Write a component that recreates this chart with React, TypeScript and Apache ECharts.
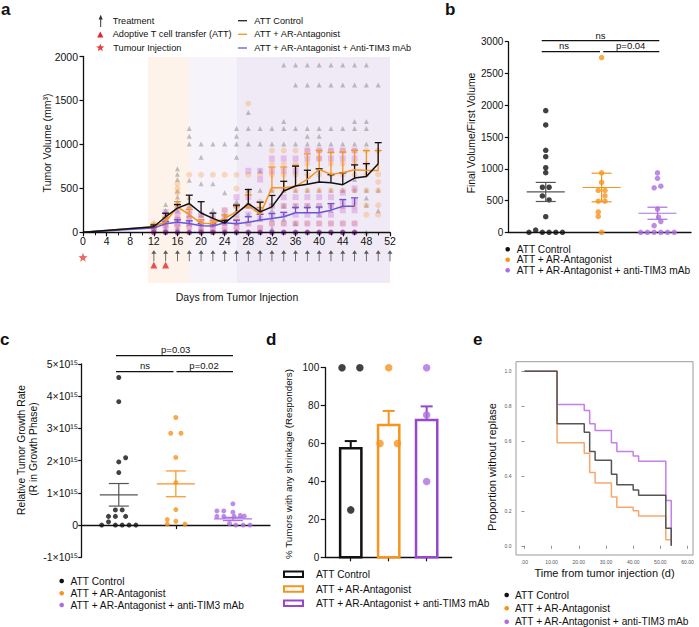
import React, { useEffect, useRef } from 'react';
import * as echarts from 'echarts';

const FONT = '"Liberation Sans", Arial, Helvetica, sans-serif';
const BLACK = '#111111';
const ORANGE = '#f7941d';
const PURPLE = '#ab6fe0';
const BLUE = '#6a55d8';

// ---------- Panel a : tumour volume over time ----------
const aDays = [0, 12, 14, 16, 18, 20, 22, 24, 26, 28, 30, 32, 34, 36, 38, 40, 42, 44, 46, 48, 50];
const aCtrlMean = [0, 63, 177, 275, 327, 220, 158, 105, 214, 327, 233, 289, 470, 527, 546, 572, 565, 542, 617, 636, 780];
const aCtrlSem = [0, 20, 40, 40, 95, 128, 60, 30, 95, 160, 110, 130, 110, 225, 160, 150, 90, 135, 150, 145, 240];
const aArMean = [0, 63, 120, 289, 200, 102, 100, 158, 233, 305, 203, 508, 508, 523, 602, 715, 659, 678, 712, 704, 704];
const aArSem = [0, 30, 50, 60, 60, 40, 30, 40, 60, 120, 80, 235, 235, 240, 290, 215, 250, 235, 220, 225, 225];
const aTimDays = [0, 12, 14, 16, 18, 20, 22, 24, 26, 28, 30, 32, 34, 36, 38, 40, 42, 44, 46];
const aTimMean = [0, 48, 98, 113, 101, 75, 72, 109, 98, 113, 139, 158, 177, 222, 222, 222, 252, 297, 297];
const aTimSem = [0, 15, 25, 30, 30, 25, 25, 30, 40, 65, 65, 55, 50, 60, 60, 65, 75, 75, 95];

const aCtrlPts: [number, number[]][] = [
  [12, [100, 70, 40, 20, 0]],
  [14, [316, 252, 195, 150, 100, 50, 0]],
  [16, [723, 659, 602, 470, 402, 350, 250, 150, 50, 0]],
  [18, [1182, 1092, 1005, 591, 400, 300, 200, 100, 0]],
  [20, [1005, 854, 553, 200, 100, 50, 0]],
  [22, [1005, 553, 250, 100, 0]],
  [24, [1005, 450, 200, 100, 0]],
  [26, [1182, 1092, 1005, 854, 350, 250, 100, 0]],
  [28, [1363, 1182, 1005, 478, 300, 200, 0]],
  [30, [1182, 1005, 700, 478, 250, 150, 0]],
  [32, [1182, 1005, 478, 250, 150, 50, 0]],
  [34, [1902, 1261, 1182, 1005, 478, 300, 150, 0]],
  [36, [1902, 1675, 1182, 1005, 478, 300, 100, 0]],
  [38, [1902, 1675, 1182, 1092, 1005, 478, 300, 0]],
  [40, [1902, 1675, 1182, 1092, 1005, 478, 200, 0]],
  [42, [1902, 1675, 1182, 1005, 478, 250, 0]],
  [44, [1902, 1675, 1182, 1005, 478, 300, 0]],
  [46, [1902, 1675, 1261, 1182, 1005, 600, 478, 0]],
  [48, [1902, 1675, 1261, 1182, 1005, 478, 391, 308, 0]],
  [50, [1675, 478, 244]],
];
const aArPts: [number, number[]][] = [
  [12, [100, 50, 20]],
  [14, [160, 90]],
  [16, [553, 497, 450, 289, 160, 80]],
  [18, [655, 300, 160, 60]],
  [20, [655, 200, 100, 30]],
  [22, [655, 160, 80, 20]],
  [24, [655, 250, 120, 30]],
  [26, [655, 497, 300, 160, 50]],
  [28, [1465, 655, 450, 300, 100]],
  [30, [655, 350, 200, 50]],
  [32, [930, 780, 655, 478, 300, 100]],
  [34, [930, 780, 655, 478, 300, 100]],
  [36, [930, 780, 655, 478, 300, 100]],
  [38, [930, 780, 655, 478, 300, 100]],
  [40, [930, 840, 655, 478, 300, 100]],
  [42, [930, 780, 655, 478, 300, 100]],
  [44, [930, 780, 655, 478, 300, 100]],
  [46, [930, 780, 655, 478, 300, 100]],
  [48, [930, 780, 655, 478, 308, 200]],
  [50, [930, 659, 572, 478, 308, 200]],
];
const aTimPts: [number, number[]][] = [
  [12, [60, 30]],
  [14, [230, 180, 130, 80, 40]],
  [16, [300, 240, 190, 140, 100, 60]],
  [18, [250, 200, 150, 100, 60]],
  [20, [200, 150, 100, 50]],
  [22, [180, 120, 80, 40]],
  [24, [250, 180, 120, 60]],
  [26, [400, 300, 200, 120, 60]],
  [28, [700, 400, 300, 200, 100]],
  [30, [700, 600, 250, 150, 50]],
  [32, [840, 700, 300, 200, 100]],
  [34, [840, 700, 400, 300, 200, 100]],
  [36, [840, 700, 400, 300, 200, 100]],
  [38, [930, 840, 400, 300, 200, 100]],
  [40, [930, 840, 400, 300, 200, 100]],
  [42, [930, 840, 400, 300, 200, 100]],
  [44, [930, 840, 450, 350, 250, 100]],
  [46, [930, 840, 500, 350, 250, 100]],
];
const aZeroDays = [12, 14, 16, 18, 20, 22, 24, 26, 28, 30, 32, 34, 36, 38, 40, 42, 44, 46];
const aTreatDays = [12, 14, 16, 18, 20, 22, 24, 26, 28, 30, 32, 34, 36, 38, 40, 42, 44, 46, 48, 50, 52];
const aAttDays = [12, 14];
const aInjectDays = [0];
const aPhases: [number, number, string][] = [
  [11, 18, '#fdf3ea'],
  [18, 26, '#f7f3fb'],
  [26, 52, '#f0eaf7'],
];

// ---------- Panel b : final / first volume ----------
const bCtrl: [number, number][] = [[1, 1915], [1, 1690], [1, 1290], [1, 1190], [1, 1017], [1, 939], [0.94, 709], [1.06, 709], [0.94, 572], [1.06, 509], [1, 246], [0.82, 36], [0.7, 0], [0.94, 0], [1.06, 0], [1.18, 0], [1.3, 0]];
const bAr: [number, number][] = [[2, 2750], [2, 935], [2, 785], [1.94, 660], [2.06, 660], [2.06, 575], [1.94, 490], [2.06, 490], [1.94, 320], [1.94, 250], [2, 0]];
const bTim: [number, number][] = [[3, 935], [3, 850], [2.94, 700], [3.06, 725], [3, 365], [3.02, 240], [3.06, 170], [2.94, 105], [2.7, 0], [2.82, 0], [2.94, 0], [3.06, 0], [3.18, 0], [3.3, 0]];
const bMeans: [number, number, number][] = [[1, 635, 150], [2, 705, 225], [3, 300, 95]];

// ---------- Panel c : growth rate (units of 1e15) ----------
const cCtrl: [number, number][] = [[1, 4.58], [1, 3.83], [1.12, 2.09], [1, 1.96], [1, 1.63], [0.94, 0.47], [1.06, 0.47], [0.82, 0.27], [0.94, 0.27], [1.12, 0.27], [0.82, 0.1], [0.7, 0], [0.94, 0], [1.06, 0], [1.18, 0], [1.3, 0]];
const cAr: [number, number][] = [[2, 3.34], [1.91, 2.85], [2.09, 2.85], [2, 2.1], [2, 1.32], [2, 0.48], [1.85, 0.17], [2, 0.12], [1.85, 0.03], [2.16, 0.03]];
const cTim: [number, number][] = [[3, 0.66], [2.72, 0.44], [2.84, 0.44], [3, 0.4], [2.72, 0.27], [2.84, 0.27], [3.02, 0.27], [3.13, 0.3], [3.2, 0.28], [2.94, 0.05], [3.05, 0], [3.18, 0], [3.3, 0]];
const cMeans: [number, number, number][] = [[1, 0.94, 0.35], [2, 1.28, 0.4], [3, 0.19, 0.05]];

// ---------- Panel d : responders ----------
const dBars: [number, number, number][] = [[1, 57.5, 3.8], [2, 69.8, 7.4], [3, 72.4, 7.2]];
const dCtrl: [number, number][] = [[0.77, 100], [1.24, 100], [1, 25]];
const dAr: [number, number][] = [[2, 100], [1.77, 60], [2.23, 60]];
const dTim: [number, number][] = [[3, 100], [3, 75], [3, 40]];

// ---------- Panel e : Kaplan-Meier ----------
const eCtrl: [number, number][] = [[0, 1], [12, 0.7], [22, 0.65], [24, 0.54], [26, 0.49], [32, 0.41], [34, 0.35], [40, 0.32], [42, 0.29], [52, 0.1], [54, 0]];
const eAr: [number, number][] = [[0, 1], [12, 0.59], [22, 0.53], [24, 0.42], [26, 0.36], [32, 0.28], [34, 0.22], [40, 0.2], [42, 0.17], [52, 0.035], [54, 0.035]];
const eTim: [number, number][] = [[0, 1], [12, 0.81], [22, 0.775], [24, 0.7], [26, 0.66], [32, 0.59], [34, 0.54], [40, 0.515], [42, 0.485], [52, 0.26], [54, 0]];
const eXTicks = [0, 10, 20, 30, 40, 50, 60];
const eYTicks = [0, 0.2, 0.4, 0.6, 0.8, 1.0];

const legendNames = ['ATT Control', 'ATT + AR-Antagonist', 'ATT + AR-Antagonist + anti-TIM3 mAb'];

// ---------- helpers ----------
const flat = (rows: [number, number[]][]) => rows.flatMap(([d, vs]) => vs.map((v) => [d, v]));
const zip3 = (xs: number[], ms: number[], es: number[]) => xs.map((x, i) => [x, ms[i], es[i]]);

function starPoints(cx: number, cy: number, R: number, r: number) {
  const pts: number[][] = [];
  for (let i = 0; i < 10; i++) {
    const ang = -Math.PI / 2 + (i * Math.PI) / 5;
    const rad = i % 2 === 0 ? R : r;
    pts.push([cx + rad * Math.cos(ang), cy + rad * Math.sin(ang)]);
  }
  return pts;
}
const starSymbol = 'path://' + starPoints(10, 10, 10, 4.2).map((p, i) => (i ? 'L' : 'M') + p[0].toFixed(2) + ',' + p[1].toFixed(2)).join('') + 'Z';
const arrowSymbol = 'path://M5,0L9,4.5L5.7,4.5L5.7,14L4.3,14L4.3,4.5L1,4.5Z';

const ln = (x1: number, y1: number, x2: number, y2: number, color: string, lw: number) => ({
  type: 'line', shape: { x1, y1, x2, y2 }, style: { stroke: color, lineWidth: lw },
});

const upperErr = (color: string, half: number, lw: number) => (_p: any, api: any) => {
  const x = api.value(0), m = api.value(1), e = api.value(2);
  if (!e) return { type: 'group', children: [] };
  const a = api.coord([x, m]);
  const b = api.coord([x, m + e]);
  return { type: 'group', children: [ln(a[0], a[1], b[0], b[1], color, lw), ln(b[0] - half, b[1], b[0] + half, b[1], color, lw)] };
};

const meanSem = (colors: string[], halfMean: number, halfCap: number, lw: number) => (p: any, api: any) => {
  const color = colors[p.dataIndex];
  const x = api.value(0), m = api.value(1), e = api.value(2);
  const c = api.coord([x, m]);
  const t = api.coord([x, m + e]);
  const b = api.coord([x, m - e]);
  return {
    type: 'group',
    children: [
      ln(c[0] - halfMean, c[1], c[0] + halfMean, c[1], color, lw),
      ln(t[0], t[1], b[0], b[1], color, lw),
      ln(t[0] - halfCap, t[1], t[0] + halfCap, t[1], color, lw),
      ln(b[0] - halfCap, b[1], b[0] + halfCap, b[1], color, lw),
    ],
  };
};

const barItem = (colors: string[]) => (p: any, api: any) => {
  const color = colors[p.dataIndex];
  const x = api.value(0), v = api.value(1);
  const tl = api.coord([x - 0.28, v]);
  const br = api.coord([x + 0.28, 0]);
  return { type: 'rect', shape: { x: tl[0], y: tl[1], width: br[0] - tl[0], height: br[1] - tl[1] }, style: { fill: '#fff', stroke: color, lineWidth: 2.5 } };
};

const txt = (x: number, y: number, text: string, size: number, extra: any = {}) => ({
  type: 'text', x, y, silent: true, rotation: extra.rotation || 0,
  style: { text, fontSize: size, fontFamily: FONT, fontWeight: extra.bold ? 'bold' : 'normal', fill: extra.fill || '#111', textAlign: extra.align || 'left', textVerticalAlign: 'middle' },
});

const axLine = { show: true, lineStyle: { color: BLACK, width: 1.3 } };
const tickOut = (len = 4) => ({ show: true, inside: false, length: len, lineStyle: { color: BLACK, width: 1.2 } });
const plain = (v: number) => String(v);
const lbl = (size: number, margin: number, extra: any = {}) => ({ fontSize: size, fontFamily: FONT, color: '#111', margin, formatter: plain, ...extra });

function buildOption() {
  const graphics: any[] = [];
  // panel letters
  graphics.push(txt(1, 9, 'a', 17, { bold: true }));
  graphics.push(txt(445, 9, 'b', 17, { bold: true }));
  graphics.push(txt(0, 339, 'c', 17, { bold: true }));
  graphics.push(txt(266, 339, 'd', 17, { bold: true }));
  graphics.push(txt(473, 339, 'e', 17, { bold: true }));

  // panel a legend
  graphics.push(ln(100.7, 27, 100.7, 18, '#333', 1));
  graphics.push({ type: 'polygon', shape: { points: [[98.6, 19.5], [100.7, 14.8], [102.8, 19.5]] }, style: { fill: '#333' } });
  graphics.push(txt(112.7, 20.7, 'Treatment', 9.2));
  graphics.push({ type: 'polygon', shape: { points: [[97.2, 37.6], [100.3, 31.4], [103.4, 37.6]] }, style: { fill: '#e3262a' } });
  graphics.push(txt(112.7, 34.3, 'Adoptive T cell transfer (ATT)', 9.2));
  graphics.push({ type: 'polygon', shape: { points: starPoints(100.3, 47.8, 4.3, 1.8) }, style: { fill: '#e8413c' } });
  graphics.push(txt(113.3, 48, 'Tumour Injection', 9.2));
  const aLeg: [string, string][] = [['ATT Control', '#222'], ['ATT + AR-Antagonist', ORANGE], ['ATT + AR-Antagonist + Anti-TIM3 mAb', BLUE]];
  aLeg.forEach(([t, c], i) => {
    const y = [20.7, 34.3, 48][i];
    graphics.push(ln(238, y, 247, y, c, 1.3));
    graphics.push(txt(254.3, y, t, 9.2));
  });
  graphics.push(txt(167.5, 274, 'Growth', 8, { align: 'center' }));
  graphics.push(txt(213.3, 275, 'Response', 8, { align: 'center' }));
  graphics.push(txt(311.7, 275, 'Relapse', 8, { align: 'center' }));
  graphics.push(txt(47, 143, 'Tumor Volume (mm\u00b3)', 10.5, { align: 'center', rotation: Math.PI / 2 }));
  graphics.push(txt(237, 297, 'Days from Tumor Injection', 10.5, { align: 'center' }));

  // panel b
  graphics.push(txt(471.7, 133, 'Final Volume/First Volume', 10.4, { align: 'center', rotation: Math.PI / 2 }));
  graphics.push(ln(541.7, 40.7, 659.3, 40.7, BLACK, 1.2));
  graphics.push(ln(541.7, 51.7, 600, 51.7, BLACK, 1.2));
  graphics.push(ln(603.3, 51.7, 659.3, 51.7, BLACK, 1.2));
  graphics.push(txt(600.5, 35, 'ns', 9.5, { align: 'center' }));
  graphics.push(txt(564, 45.5, 'ns', 9.5, { align: 'center' }));
  graphics.push(txt(630.7, 45.5, 'p=0.04', 9.5, { align: 'center' }));

  // panel c
  graphics.push(txt(21.7, 450, 'Relative Tumor Growth Rate', 10.3, { align: 'center', rotation: Math.PI / 2 }));
  graphics.push(txt(33.5, 449, '(R in Growth Phase)', 10.3, { align: 'center', rotation: Math.PI / 2 }));
  graphics.push(ln(116, 355.7, 233, 355.7, BLACK, 1.2));
  graphics.push(ln(116, 371.7, 173.5, 371.7, BLACK, 1.2));
  graphics.push(ln(176.5, 371.7, 233, 371.7, BLACK, 1.2));
  graphics.push(txt(175.7, 349, 'p=0.03', 9.5, { align: 'center' }));
  graphics.push(txt(145, 365, 'ns', 9.5, { align: 'center' }));
  graphics.push(txt(204, 365, 'p=0.02', 9.5, { align: 'center' }));

  // panel d
  graphics.push(txt(288.3, 464, '% Tumors with any shrinkage (Responders)', 9.8, { align: 'center', rotation: Math.PI / 2 }));

  // panel e
  graphics.push(txt(491.7, 467, 'Proportion without replase', 11, { align: 'center', rotation: Math.PI / 2 }));
  graphics.push(txt(604.5, 573, 'Time from tumor injection (d)', 11, { align: 'center' }));

  const dotColors = [BLACK, ORANGE, PURPLE];
  const dotLegend = (x: number, ys: number[], tx: number, size: number) => {
    legendNames.forEach((t, i) => {
      graphics.push({ type: 'circle', shape: { cx: x, cy: ys[i], r: 2.3 }, style: { fill: dotColors[i] } });
      graphics.push(txt(tx, ys[i], t, size));
    });
  };
  dotLegend(507.7, [249.3, 259.8, 270.3], 516.7, 10.2);
  dotLegend(61.7, [581, 593.3, 605], 70.5, 10.2);
  dotLegend(506.7, [595, 608.3, 621.7], 515, 10.2);
  const barColors = [BLACK, ORANGE, '#9646d2'];
  legendNames.forEach((t, i) => {
    const y = [574.3, 589, 603.3][i];
    graphics.push({ type: 'rect', shape: { x: 284, y: y - 2.8, width: 19, height: 5.6 }, style: { fill: '#fff', stroke: barColors[i], lineWidth: 2 } });
    graphics.push(txt(316, y, t, 10.2));
  });

  const series: any[] = [];
  // shading (grid 0)
  series.push({
    type: 'line', xAxisIndex: 0, yAxisIndex: 0, data: [[0, -1]], showSymbol: false, lineStyle: { opacity: 0 }, z: 0, silent: true,
    markArea: { silent: true, data: aPhases.map(([s, e, c]) => [{ xAxis: s, itemStyle: { color: c } }, { xAxis: e }]) },
  });
  // scatter individual tumours
  series.push({ type: 'scatter', xAxisIndex: 1, yAxisIndex: 1, data: flat(aCtrlPts), symbol: 'triangle', symbolSize: 5, itemStyle: { color: 'rgba(105,105,105,0.5)' }, z: 2, silent: true });
  series.push({ type: 'scatter', xAxisIndex: 1, yAxisIndex: 1, data: flat(aArPts), symbol: 'circle', symbolSize: 6, itemStyle: { color: 'rgba(247,150,60,0.38)' }, z: 2, silent: true });
  series.push({ type: 'scatter', xAxisIndex: 1, yAxisIndex: 1, data: flat(aTimPts), symbol: 'rect', symbolSize: 6, itemStyle: { color: 'rgba(200,90,215,0.38)' }, z: 2, silent: true });
  series.push({ type: 'scatter', xAxisIndex: 1, yAxisIndex: 1, data: aZeroDays.map((d) => [d, 0]), symbol: 'circle', symbolSize: 5.5, itemStyle: { color: '#9a2fb5' }, z: 3, silent: true });
  // mean lines
  const meanLine = (xs: number[], ms: number[], color: string) => ({
    type: 'line', xAxisIndex: 1, yAxisIndex: 1, data: xs.map((x, i) => [x, ms[i]]), showSymbol: false, lineStyle: { color, width: 1.5 }, z: 5, silent: true,
  });
  const errSeries = (xs: number[], ms: number[], es: number[], color: string) => ({
    type: 'custom', xAxisIndex: 1, yAxisIndex: 1, data: zip3(xs, ms, es), renderItem: upperErr(color, 3.5, 1.3), z: 5, silent: true,
  });
  series.push(errSeries(aDays, aArMean, aArSem, ORANGE));
  series.push(meanLine(aDays, aArMean, ORANGE));
  series.push(errSeries(aTimDays, aTimMean, aTimSem, BLUE));
  series.push(meanLine(aTimDays, aTimMean, BLUE));
  series.push(errSeries(aDays, aCtrlMean, aCtrlSem, BLACK));
  series.push(meanLine(aDays, aCtrlMean, BLACK));
  // annotation row
  series.push({ type: 'scatter', xAxisIndex: 2, yAxisIndex: 2, data: aTreatDays.map((d) => [d, 0.626]), symbol: arrowSymbol, symbolSize: [5, 11], itemStyle: { color: '#333' }, silent: true });
  series.push({ type: 'scatter', xAxisIndex: 2, yAxisIndex: 2, data: aAttDays.map((d) => [d, 0.405]), symbol: 'triangle', symbolSize: 7, itemStyle: { color: '#e3262a' }, silent: true });
  series.push({ type: 'scatter', xAxisIndex: 2, yAxisIndex: 2, data: aInjectDays.map((d) => [d, 0.588]), symbol: starSymbol, symbolSize: 9, itemStyle: { color: '#e8413c' }, silent: true });

  // panel b
  series.push({ type: 'scatter', xAxisIndex: 3, yAxisIndex: 3, data: bCtrl, symbolSize: 5.5, itemStyle: { color: BLACK }, silent: true });
  series.push({ type: 'scatter', xAxisIndex: 3, yAxisIndex: 3, data: bAr, symbolSize: 5.5, itemStyle: { color: ORANGE }, silent: true });
  series.push({ type: 'scatter', xAxisIndex: 3, yAxisIndex: 3, data: bTim, symbolSize: 5.5, itemStyle: { color: PURPLE }, silent: true });
  series.push({ type: 'custom', xAxisIndex: 3, yAxisIndex: 3, data: bMeans, renderItem: meanSem(['#555', ORANGE, PURPLE], 19, 10, 1.2), z: 5, silent: true });

  // panel c
  series.push({ type: 'scatter', xAxisIndex: 4, yAxisIndex: 4, data: cCtrl, symbolSize: 5, itemStyle: { color: BLACK }, silent: true });
  series.push({ type: 'scatter', xAxisIndex: 4, yAxisIndex: 4, data: cAr, symbolSize: 5, itemStyle: { color: ORANGE }, silent: true });
  series.push({ type: 'scatter', xAxisIndex: 4, yAxisIndex: 4, data: cTim, symbolSize: 5, itemStyle: { color: PURPLE }, silent: true });
  series.push({ type: 'custom', xAxisIndex: 4, yAxisIndex: 4, data: cMeans, renderItem: meanSem(['#555', ORANGE, PURPLE], 19, 10, 1.2), z: 5, silent: true });

  // panel d
  series.push({ type: 'custom', xAxisIndex: 5, yAxisIndex: 5, data: dBars, renderItem: barItem(barColors), z: 2, silent: true });
  series.push({
    type: 'custom', xAxisIndex: 5, yAxisIndex: 5, data: dBars, z: 3, silent: true,
    renderItem: (p: any, api: any) => upperErr(barColors[p.dataIndex], 6, 2)(p, api),
  });
  series.push({ type: 'scatter', xAxisIndex: 5, yAxisIndex: 5, data: dCtrl, symbolSize: 7.5, itemStyle: { color: BLACK }, z: 4, silent: true });
  series.push({ type: 'scatter', xAxisIndex: 5, yAxisIndex: 5, data: dAr, symbolSize: 7.5, itemStyle: { color: ORANGE }, z: 4, silent: true });
  series.push({ type: 'scatter', xAxisIndex: 5, yAxisIndex: 5, data: dTim, symbolSize: 7.5, itemStyle: { color: PURPLE }, z: 4, silent: true });

  // panel e
  const km = (data: [number, number][], color: string, z: number) => ({
    type: 'line', xAxisIndex: 6, yAxisIndex: 6, data, step: 'end', showSymbol: false, lineStyle: { color, width: 1.5 }, z, silent: true,
  });
  series.push(km(eTim, '#c67ee8', 2));
  series.push(km(eAr, '#f9a66c', 3));
  series.push(km(eCtrl, '#555555', 4));

  const hiddenX = (grid: number, min: number, max: number) => ({ type: 'value', gridIndex: grid, min, max, show: false });
  const hiddenY = (grid: number) => ({ type: 'value', gridIndex: grid, min: 0, max: 1, show: false });

  return {
    animation: false,
    backgroundColor: '#ffffff',
    textStyle: { fontFamily: FONT },
    grid: [
      { left: 83, top: 57, width: 307, height: 226 },
      { left: 83, top: 56.5, width: 307, height: 175.8 },
      { left: 83, top: 240, width: 307, height: 42 },
      { left: 508.3, top: 41.7, width: 182.7, height: 190.6 },
      { left: 81.7, top: 364, width: 188.3, height: 193.3 },
      { left: 325.7, top: 367.7, width: 126, height: 189.6 },
      { left: 516, top: 361.7, width: 177, height: 193.3, show: true, borderColor: '#9a9a9a', borderWidth: 1 },
    ],
    xAxis: [
      hiddenX(0, 0, 52),
      {
        type: 'value', gridIndex: 1, min: 0, max: 52, interval: 4, z: 10,
        axisLine: axLine, axisTick: tickOut(4), minorTick: { show: true, splitNumber: 2, length: 3, lineStyle: { color: BLACK, width: 1 } },
        axisLabel: lbl(10.5, 3), splitLine: { show: false },
      },
      hiddenX(2, 0, 52),
      { type: 'value', gridIndex: 3, min: 0.33, max: 3.6, axisLine: axLine, axisTick: { show: false }, axisLabel: { show: false }, splitLine: { show: false } },
      { type: 'value', gridIndex: 4, min: 0.35, max: 3.65, axisLine: axLine, axisTick: { ...tickOut(4), customValues: [2] }, axisLabel: { show: false }, splitLine: { show: false } },
      { type: 'value', gridIndex: 5, min: 0.34, max: 3.66, axisLine: axLine, axisTick: { ...tickOut(4), customValues: [1, 2, 3] }, axisLabel: { show: false }, splitLine: { show: false } },
      {
        type: 'value', gridIndex: 6, min: -3.1, max: 62, axisLine: { show: false },
        axisTick: { show: true, length: 3, lineStyle: { color: '#777', width: 0.8 }, customValues: eXTicks },
        axisLabel: { fontSize: 5, color: '#555', margin: 4, customValues: eXTicks, formatter: (v: number) => (v === 0 ? '.00' : v.toFixed(2)) },
        splitLine: { show: false },
      },
    ],
    yAxis: [
      hiddenY(0),
      { type: 'value', gridIndex: 1, min: 0, max: 2000, interval: 500, z: 10, axisLine: axLine, axisTick: tickOut(3.5), axisLabel: lbl(10.5, 5), splitLine: { show: false } },
      hiddenY(2),
      { type: 'value', gridIndex: 3, min: 0, max: 3000, interval: 500, axisLine: axLine, axisTick: tickOut(3.5), axisLabel: lbl(10, 5), splitLine: { show: false } },
      {
        type: 'value', gridIndex: 4, min: -1, max: 5, interval: 1, axisLine: axLine, axisTick: tickOut(3.5),
        axisLabel: lbl(10.5, 3.5, { formatter: (v: number) => (v === 0 ? '0' : `${v < 0 ? '-' : ''}${Math.abs(v)}\u00d710\u00b9\u2075`) }),
        splitLine: { show: false },
      },
      { type: 'value', gridIndex: 5, min: 0, max: 100, interval: 20, axisLine: axLine, axisTick: tickOut(5), axisLabel: lbl(10, 6.5), splitLine: { show: false } },
      {
        type: 'value', gridIndex: 6, min: -0.053, max: 1.055, axisLine: { show: false },
        axisTick: { show: true, length: 3, lineStyle: { color: '#777', width: 0.8 }, customValues: eYTicks },
        axisLabel: { fontSize: 5, color: '#555', margin: 4.5, customValues: eYTicks, formatter: (v: number) => v.toFixed(1) },
        splitLine: { show: false },
      },
    ],
    series,
    graphic: { elements: graphics },
  };
}

export default function App() {
  const ref = useRef<HTMLDivElement>(null);
  useEffect(() => {
    if (!ref.current) return;
    const chart = echarts.init(ref.current, null, { renderer: 'svg' });
    chart.setOption(buildOption() as any);
    return () => chart.dispose();
  }, []);
  return <div ref={ref} style={{ position: 'absolute', left: 0, top: 0, width: 699, height: 627, background: '#fff' }} />;
}
